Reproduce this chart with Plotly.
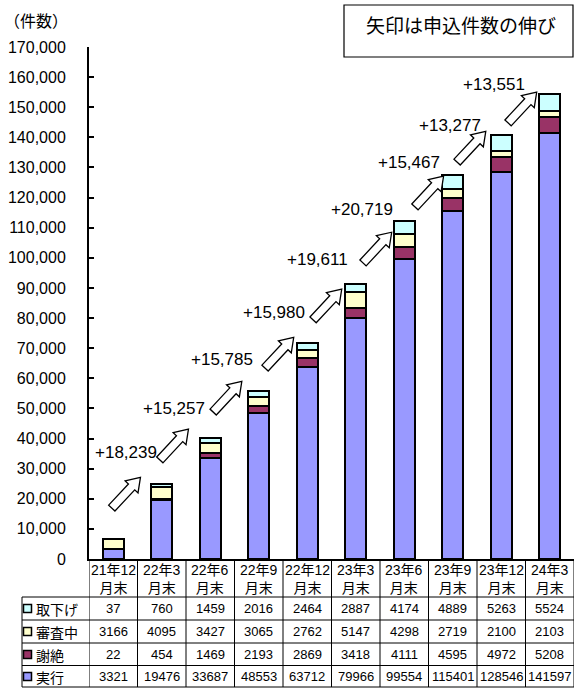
import math
import plotly.graph_objects as go

# ---------------- data ----------------
categories = ["21年12<br>月末", "22年3<br>月末", "22年6<br>月末", "22年9<br>月末", "22年12<br>月末",
              "23年3<br>月末", "23年6<br>月末", "23年9<br>月末", "23年12<br>月末", "24年3<br>月末"]
torisage = [37, 760, 1459, 2016, 2464, 2887, 4174, 4889, 5263, 5524]          # 取下げ
shinsachu = [3166, 4095, 3427, 3065, 2762, 5147, 4298, 2719, 2100, 2103]     # 審査中
shazetsu = [22, 454, 1469, 2193, 2869, 3418, 4111, 4595, 4972, 5208]         # 謝絶
jikko = [3321, 19476, 33687, 48553, 63712, 79966, 99554, 115401, 128546, 141597]  # 実行
series_names = ["取下げ", "審査中", "謝絶", "実行"]
y_ticks = list(range(0, 170001, 10000))

# ---------------- layout helpers (positions / styles) ----------------
W, H = 574, 688
ML, MR, MT, MB = 89, 0, 47, 129
PW, PH = W - ML - MR, H - MT - MB
FONT_NUM = "Liberation Sans, Noto Sans CJK JP, sans-serif"
FONT_JP = "Noto Sans CJK JP, Liberation Sans, sans-serif"
colors = {"実行": "#9999FF", "謝絶": "#993366", "審査中": "#FFFFCC", "取下げ": "#CCFFFF"}

def px_x(p):  # pixel -> paper x
    return (p - ML) / PW

def px_y(p):  # pixel -> paper y
    return (H - MB - p) / PH

xs = list(range(len(categories)))
totals = [a + b + c + d for a, b, c, d in zip(torisage, shinsachu, shazetsu, jikko)]
increments = [totals[i + 1] - totals[i] for i in range(len(totals) - 1)]

fig = go.Figure()
stack = [("実行", jikko), ("謝絶", shazetsu), ("審査中", shinsachu), ("取下げ", torisage)]
for name, vals in stack:
    fig.add_trace(go.Bar(x=xs, y=vals, name=name, width=0.43,
                         marker=dict(color=colors[name], line=dict(color="black", width=2)),
                         showlegend=False))

shapes = []
annotations = []

def ann(**kw):
    kw.setdefault("showarrow", False)
    kw.setdefault("xanchor", "center")
    kw.setdefault("yanchor", "middle")
    annotations.append(kw)

# arrows (base anchor in data coords), block arrows in pixel space
arrow_bases = [(-0.03, 16900), (0.96, 32900), (2.06, 48800), (3.13, 63400), (4.12, 79400),
               (5.15, 98300), (6.22, 116900), (7.09, 131800), (8.14, 144800)]
label_pos = [(0.26, 35200), (1.25, 50100), (2.24, 66400), (3.31, 82000), (4.22, 99600),
             (5.13, 115900), (6.10, 131800), (6.94, 144100), (7.85, 157400)]
L, w, h, hl = 42, 4.3, 8.8, 13
ang = math.atan2(30, 28)
ux, uy = math.cos(ang), math.sin(ang)
nx, ny = -uy, ux
local = [(0, -w), (L - hl, -w), (L - hl, -h), (L, 0), (L - hl, h), (L - hl, w), (0, w)]
pts = [(a * ux + p * nx, a * uy + p * ny) for a, p in local]
path = "M " + " L ".join(f"{px:.2f},{py:.2f}" for px, py in pts) + " Z"
for (bx, by) in arrow_bases:
    shapes.append(dict(type="path", xref="x", yref="y", xsizemode="pixel", ysizemode="pixel",
                       xanchor=bx, yanchor=by, path=path, fillcolor="white",
                       line=dict(color="black", width=1.3), layer="above"))
for (lx, ly), inc in zip(label_pos, increments):
    ann(x=lx, y=ly, xref="x", yref="y", text=f"+{inc:,}",
        font=dict(family=FONT_NUM, size=17, color="black"))

# note box
shapes.append(dict(type="rect", xref="paper", yref="paper", x0=px_x(344), x1=px_x(573),
                   y0=px_y(57), y1=px_y(5), line=dict(color="black", width=1.2),
                   fillcolor="white"))
ann(x=px_x(461), y=px_y(24), xref="paper", yref="paper", text="矢印は申込件数の伸び",
    font=dict(family=FONT_JP, size=19, color="black"))
ann(x=px_x(36), y=px_y(20), xref="paper", yref="paper", text="（件数）",
    font=dict(family=FONT_JP, size=16, color="black"))

# ---------------- table ----------------
row_lines = [597, 620, 643, 665.5, 687]
row_centers = [608.5, 631.5, 654.5, 676.5]
table_left = 22
for yl in row_lines:
    shapes.append(dict(type="line", xref="paper", yref="paper", x0=px_x(table_left), x1=1,
                       y0=px_y(yl), y1=px_y(yl), line=dict(color="black", width=1)))
shapes.append(dict(type="line", xref="paper", yref="paper", x0=px_x(table_left), x1=px_x(table_left),
                   y0=px_y(597), y1=px_y(687), line=dict(color="black", width=1)))
for i in range(len(categories) + 1):
    xb = i - 0.5
    shapes.append(dict(type="line", xref="x", yref="paper", x0=xb, x1=xb,
                       y0=0, y1=px_y(687), line=dict(color="black", width=1)))

for i, c in enumerate(categories):
    ann(x=i, y=px_y(578.5), xref="x", yref="paper", text=c,
        font=dict(family=FONT_NUM, size=14, color="black"))

rows = [torisage, shinsachu, shazetsu, jikko]
for r, (name, vals) in enumerate(zip(series_names, rows)):
    yc = row_centers[r]
    for i, v in enumerate(vals):
        ann(x=i, y=px_y(yc), xref="x", yref="paper", text=str(v),
            font=dict(family=FONT_NUM, size=13, color="black"))
    shapes.append(dict(type="rect", xref="paper", yref="paper", x0=px_x(23.5), x1=px_x(31.5),
                       y0=px_y(yc + 4), y1=px_y(yc - 4), fillcolor=colors[name],
                       line=dict(color="black", width=1.5)))
    ann(x=px_x(33.5), y=px_y(yc), xref="paper", yref="paper", text=name, xanchor="left",
        font=dict(family=FONT_JP, size=14, color="black"))

fig.update_layout(
    width=W, height=H, margin=dict(l=ML, r=MR, t=MT, b=MB),
    barmode="stack", plot_bgcolor="white", paper_bgcolor="white",
    shapes=shapes, annotations=annotations,
    xaxis=dict(range=[-0.5, len(categories) - 0.5], showticklabels=False, ticks="",
               showgrid=False, zeroline=False, showline=True, linecolor="black", linewidth=2,
               fixedrange=True),
    yaxis=dict(range=[0, 170000], tickvals=y_ticks, tickformat=",", ticks="inside", ticklen=5,
               tickwidth=2, tickcolor="black", showgrid=False, zeroline=False, showline=True,
               linecolor="black", linewidth=2, ticklabelstandoff=18,
               tickfont=dict(family=FONT_NUM, size=16, color="black"), fixedrange=True),
)

fig.write_html("out.html", config={"displayModeBar": False},
               post_script="document.body.style.margin='0';document.body.style.padding='0';")
